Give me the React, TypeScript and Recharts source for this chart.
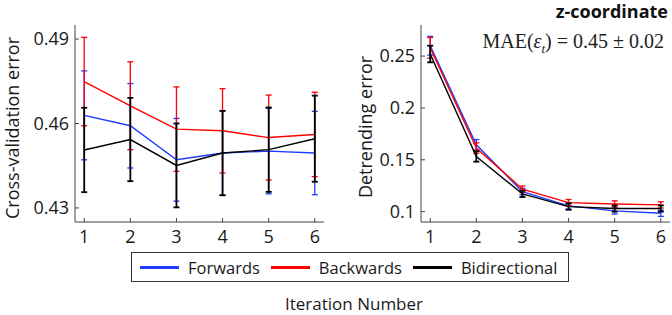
import React from 'react';
import { LineChart, Line, XAxis, YAxis, ErrorBar } from 'recharts';

const iterations = [1, 2, 3, 4, 5, 6];

// cross-validation error (left panel)
const cvForwards = [0.4629, 0.4592, 0.4471, 0.4495, 0.4502, 0.4495];
const cvForwardsErr = [0.0158, 0.015, 0.0147, 0.015, 0.0152, 0.0148];
const cvBackwards = [0.4749, 0.4663, 0.458, 0.4574, 0.455, 0.4561];
const cvBackwardsErr = [0.0157, 0.0156, 0.015, 0.015, 0.0151, 0.015];
const cvBidirectional = [0.4506, 0.4543, 0.4451, 0.4495, 0.4507, 0.4546];
const cvBidirectionalErr = [0.015, 0.0148, 0.0149, 0.015, 0.015, 0.0153];

// detrending error (right panel)
const dtForwards = [0.26, 0.1645, 0.1193, 0.1055, 0.1007, 0.0984];
const dtForwardsErr = [0.009, 0.005, 0.003, 0.003, 0.003, 0.003];
const dtBackwards = [0.258, 0.1613, 0.1217, 0.1087, 0.1074, 0.1065];
const dtBackwardsErr = [0.01, 0.005, 0.003, 0.003, 0.003, 0.003];
const dtBidirectional = [0.252, 0.1532, 0.1171, 0.1048, 0.103, 0.103];
const dtBidirectionalErr = [0.008, 0.005, 0.003, 0.003, 0.003, 0.003];

const cvTicks = [0.43, 0.46, 0.49];
const dtTicks = [0.1, 0.15, 0.2, 0.25];

const SERIES = [
  { key: 'f', name: 'Forwards', color: '#1e3cff' },
  { key: 'b', name: 'Backwards', color: '#ff0000' },
  { key: 'd', name: 'Bidirectional', color: '#000000' },
];

const cvData = iterations.map((x, i) => ({
  x,
  f: cvForwards[i], fErr: cvForwardsErr[i],
  b: cvBackwards[i], bErr: cvBackwardsErr[i],
  d: cvBidirectional[i], dErr: cvBidirectionalErr[i],
}));

const dtData = iterations.map((x, i) => ({
  x,
  f: dtForwards[i], fErr: dtForwardsErr[i],
  b: dtBackwards[i], bErr: dtBackwardsErr[i],
  d: dtBidirectional[i], dErr: dtBidirectionalErr[i],
}));

const FONT = '"Open Sans", sans-serif';
const AXIS = '#444';
const tickStyle = { fontSize: 18, fill: '#1a1a1a', fontFamily: FONT };

function Panel({ data, domain, ticks, fmt, yWidth }: any) {
  return (
    <LineChart
      width={yWidth + 249 + 16}
      height={260}
      data={data}
      margin={{ top: 25, right: 16, bottom: 0, left: 0 }}
    >
      <XAxis
        dataKey="x"
        type="number"
        domain={[0.8, 6.2]}
        ticks={iterations}
        allowDataOverflow
        height={38}
        stroke={AXIS}
        tickSize={-4}
        tickMargin={12}
        tick={tickStyle}
      />
      <XAxis
        xAxisId="top"
        orientation="top"
        type="number"
        domain={[0.8, 6.2]}
        ticks={iterations}
        allowDataOverflow
        height={0}
        stroke={AXIS}
        tickSize={-4}
        tick={false}
      />
      <YAxis
        type="number"
        domain={domain}
        ticks={ticks}
        allowDataOverflow
        width={yWidth}
        stroke={AXIS}
        tickSize={-4}
        tickMargin={10}
        tick={tickStyle}
        tickFormatter={fmt}
      />
      <YAxis
        yAxisId="right"
        orientation="right"
        type="number"
        domain={domain}
        ticks={ticks}
        allowDataOverflow
        width={0}
        stroke={AXIS}
        tickSize={-4}
        tick={false}
      />
      {SERIES.map(s => (
        <Line
          key={s.key}
          dataKey={s.key}
          stroke={s.color}
          strokeWidth={1.4}
          dot={false}
          isAnimationActive={false}
        >
          <ErrorBar
            dataKey={s.key + 'Err'}
            direction="y"
            width={3}
            stroke={s.color}
            strokeWidth={s.key === 'd' ? 1.8 : 1.3}
          />
        </Line>
      ))}
    </LineChart>
  );
}

const rotLabel = (cx: number, cy: number): React.CSSProperties => ({
  position: 'absolute',
  left: cx,
  top: cy,
  transform: 'translate(-50%, -50%) rotate(-90deg)',
  whiteSpace: 'nowrap',
  fontSize: 18,
  lineHeight: '18px',
  color: '#1a1a1a',
});

export default function App() {
  return (
    <div style={{ position: 'absolute', left: 0, top: 0, width: 672, height: 315, background: '#fff', fontFamily: FONT }}>
      <div style={{ position: 'absolute', left: 0, top: 0 }}>
        <Panel data={cvData} domain={[0.425, 0.495]} ticks={cvTicks} fmt={(v: number) => v.toFixed(2)} yWidth={75} />
      </div>
      <div style={{ position: 'absolute', left: 340, top: 0 }}>
        <Panel data={dtData} domain={[0.09, 0.28]} ticks={dtTicks} fmt={(v: number) => String(v)} yWidth={81} />
      </div>

      <div style={rotLabel(12, 128)}>Cross-validation error</div>
      <div style={rotLabel(365, 127)}>Detrending error</div>

      <div style={{ position: 'absolute', right: 4, top: 2, fontSize: 18, lineHeight: '18px', fontWeight: 700, color: '#111' }}>
        z-coordinate
      </div>
      <div style={{ position: 'absolute', right: 8, top: 31, fontFamily: '"Liberation Serif", serif', fontSize: 20, lineHeight: '20px', color: '#222', whiteSpace: 'nowrap' }}>
        MAE(<i>ε</i><sub style={{ fontSize: 13, lineHeight: 0 }}><i>t</i></sub>) = 0.45 ± 0.02
      </div>

      <div style={{ position: 'absolute', left: 131, top: 252, width: 436, height: 28, border: '1.5px solid #333', display: 'flex', alignItems: 'center', fontSize: 16.5, color: '#1a1a1a' }}>
        {SERIES.map(s => (
          <div key={s.key} style={{ display: 'flex', alignItems: 'center', marginLeft: 8, marginRight: 3 }}>
            <div style={{ width: 39, height: 3, background: s.color, marginRight: 9 }} />
            <span>{s.name}</span>
          </div>
        ))}
      </div>

      <div style={{ position: 'absolute', left: 354, top: 293, transform: 'translateX(-50%)', fontSize: 17, lineHeight: '22px', color: '#1a1a1a', whiteSpace: 'nowrap' }}>
        Iteration Number
      </div>
    </div>
  );
}
